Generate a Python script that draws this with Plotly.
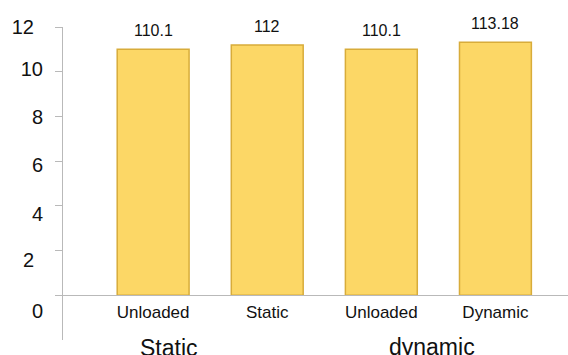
import plotly.graph_objects as go

# Measured load values, plotted in tens on the y axis
values = [110.1, 112, 110.1, 113.18]
value_labels = ["110.1", "112", "110.1", "113.18"]
categories = ["Unloaded", "Static", "Unloaded", "Dynamic"]
groups = ["Static", "dynamic"]
y_ticks = [0, 2, 4, 6, 8, 10, 12]
y_tick_labels = ["0", "2", "4", "6", "8", "10", "12"]

SCALE = 10
heights = [v / SCALE for v in values]
xpos = list(range(len(categories)))

FONT = "Arial, Liberation Sans, sans-serif"
AXIS_GRAY = "#b9b9b9"
Y_RANGE = [-2, 12]

# tick labels that sit further out from the axis line
OUTER = {2, 12}
inner_vals = [v for v in y_ticks if v not in OUTER]
inner_text = [t for v, t in zip(y_ticks, y_tick_labels) if v not in OUTER]
outer_vals = [v for v in y_ticks if v in OUTER]
outer_text = [t for v, t in zip(y_ticks, y_tick_labels) if v in OUTER]

fig = go.Figure()
fig.add_trace(go.Bar(
    x=xpos,
    y=heights,
    width=0.63,
    marker=dict(color="#FCD766", line=dict(color="#D8AC3A", width=1.5)),
    hoverinfo="skip",
))
# empty traces so the label axes on the left are rendered
for ax in ("y2", "y3"):
    fig.add_trace(go.Scatter(x=[None], y=[None], yaxis=ax, mode="markers",
                             hoverinfo="skip"))

# value captions above each bar
for xi, h, lab in zip(xpos, heights, value_labels):
    fig.add_annotation(
        x=xi, y=h, text=lab, showarrow=False,
        xref="x", yref="y", yanchor="bottom", yshift=8,
        font=dict(family=FONT, size=16, color="#111111"),
    )

# group captions under the category labels
for gx, gy, name in zip([0.14, 2.44], [-0.027, -0.021], groups):
    fig.add_annotation(
        x=gx, y=gy, text=name, showarrow=False,
        xref="x", yref="paper", yanchor="middle",
        font=dict(family=FONT, size=23, color="#111111"),
    )

label_axis = dict(
    overlaying="y", anchor="free", position=0, side="left",
    ticks="", showline=False, showgrid=False, zeroline=False,
    tickfont=dict(family=FONT, size=20, color="#111111"),
)

fig.update_layout(
    width=568, height=355,
    margin=dict(l=63, r=0, t=27, b=15),
    paper_bgcolor="white", plot_bgcolor="white",
    showlegend=False,
    xaxis=dict(
        range=[-0.79, 3.636],
        anchor="free",
        position=(0 - Y_RANGE[0]) / (Y_RANGE[1] - Y_RANGE[0]),
        tickvals=xpos, ticktext=categories,
        ticks="", showgrid=False, zeroline=False,
        showline=True, linecolor=AXIS_GRAY, linewidth=1,
        tickfont=dict(family=FONT, size=17, color="#111111"),
        ticklabelstandoff=1,
    ),
    yaxis=dict(
        range=Y_RANGE,
        tickvals=y_ticks,
        ticks="outside", ticklen=7, tickcolor=AXIS_GRAY, tickwidth=1,
        showticklabels=False,
        showline=True, linecolor=AXIS_GRAY, linewidth=1,
        showgrid=False, zeroline=False,
    ),
    yaxis2=dict(label_axis, range=[-1.21, 11.72],
                tickvals=inner_vals, ticktext=inner_text,
                ticklabelstandoff=20),
    yaxis3=dict(label_axis, range=[-1.405, 12],
                tickvals=outer_vals, ticktext=outer_text,
                ticklabelstandoff=29),
)

fig.write_html("out.html")
